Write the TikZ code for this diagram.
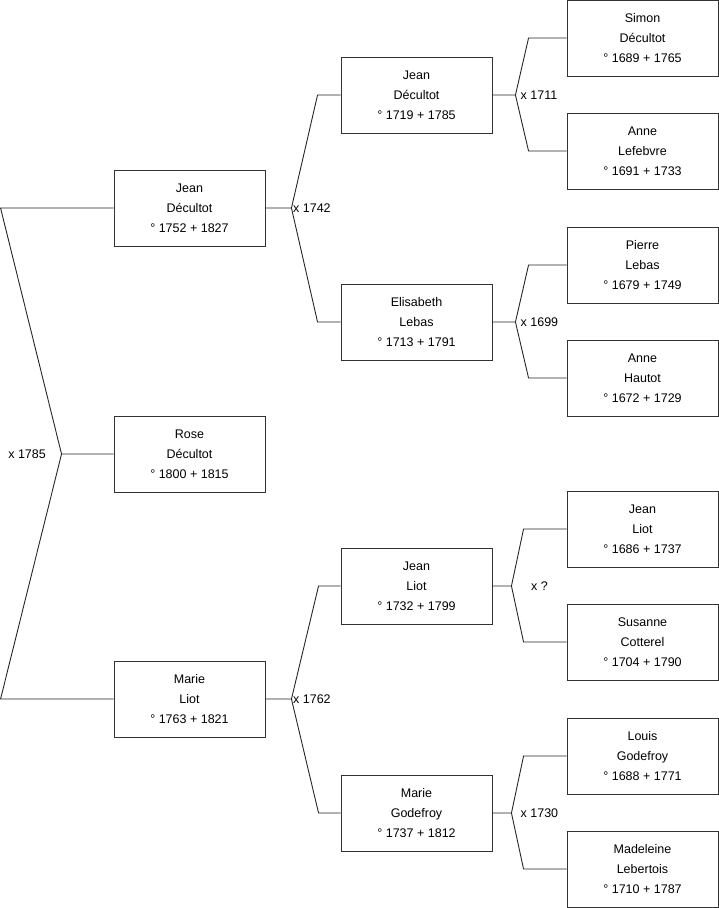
\documentclass[tikz,border=0pt]{standalone}
\usepackage{fontspec}
\setmainfont{Liberation Sans}
\usetikzlibrary{calc}

\begin{document}
\begin{tikzpicture}[x=1pt, y=-1pt,
        person/.style={rectangle, draw=black!80, line width=0.9pt,
                       minimum width=151pt, minimum height=76pt, inner sep=0pt,
                       align=center, font=\fontsize{12.5}{20}\selectfont},
        link/.style={draw=black!85, line width=0.9pt},
        wed/.style={font=\fontsize{12.5}{14}\selectfont, inner sep=1.5pt}
      ]
        \useasboundingbox (0,0) rectangle (719,908);
        \node[person] (jd1) at (189.5,208) {Jean\\Décultot\\° 1752 + 1827};
        \node[person] (rd)  at (189.5,454) {Rose\\Décultot\\° 1800 + 1815};
        \node[person] (ml1) at (189.5,699) {Marie\\Liot\\° 1763 + 1821};
        \node[person] (jd2) at (416.5,95)  {Jean\\Décultot\\° 1719 + 1785};
        \node[person] (el)  at (416.5,322) {Elisabeth\\Lebas\\° 1713 + 1791};
        \node[person] (jl2) at (416.5,586) {Jean\\Liot\\° 1732 + 1799};
        \node[person] (mg)  at (416.5,813) {Marie\\Godefroy\\° 1737 + 1812};
        \node[person] (sd)  at (642.5,38)  {Simon\\Décultot\\° 1689 + 1765};
        \node[person] (al)  at (642.5,151) {Anne\\Lefebvre\\° 1691 + 1733};
        \node[person] (pl)  at (642.5,265) {Pierre\\Lebas\\° 1679 + 1749};
        \node[person] (ah)  at (642.5,378) {Anne\\Hautot\\° 1672 + 1729};
        \node[person] (jl3) at (642.5,529) {Jean\\Liot\\° 1686 + 1737};
        \node[person] (sc)  at (642.5,642) {Susanne\\Cotterel\\° 1704 + 1790};
        \node[person] (lg)  at (642.5,756) {Louis\\Godefroy\\° 1688 + 1771};
        \node[person] (mb)  at (642.5,869) {Madeleine\\Lebertois\\° 1710 + 1787};

        \coordinate (m0) at ($(rd.west)-(52,0)$);
        \draw[link] (jd1.west) -- ++(-113,0) -- (m0) -- (rd.west);
        \draw[link] (m0) -- ($(ml1.west)-(113,0)$) -- (ml1.west);
        \node[wed, left=14pt] at (m0) {x 1785};

        \coordinate (m1) at ($(jd1.east)+(26,0)$);
        \draw[link] (jd1.east) -- (m1) -- ($(jd2.west)-(23,0)$) -- (jd2.west);
        \draw[link] (m1) -- ($(el.west)-(23,0)$) -- (el.west);
        \node[wed, right] at (m1) {x 1742};

        \coordinate (m2) at ($(ml1.east)+(26,0)$);
        \draw[link] (ml1.east) -- (m2) -- ($(jl2.west)-(22,0)$) -- (jl2.west);
        \draw[link] (m2) -- ($(mg.west)-(22,0)$) -- (mg.west);
        \node[wed, right] at (m2) {x 1762};

        \coordinate (m3) at ($(jd2.east)+(23,0)$);
        \draw[link] (jd2.east) -- (m3) -- ($(sd.west)-(38,0)$) -- (sd.west);
        \draw[link] (m3) -- ($(al.west)-(38,0)$) -- (al.west);
        \node[wed, right=3.5pt] at (m3) {x 1711};

        \coordinate (m4) at ($(el.east)+(23,0)$);
        \draw[link] (el.east) -- (m4) -- ($(pl.west)-(38,0)$) -- (pl.west);
        \draw[link] (m4) -- ($(ah.west)-(38,0)$) -- (ah.west);
        \node[wed, right=3.5pt] at (m4) {x 1699};

        \coordinate (m5) at ($(jl2.east)+(19,0)$);
        \draw[link] (jl2.east) -- (m5) -- ($(jl3.west)-(43,0)$) -- (jl3.west);
        \draw[link] (m5) -- ($(sc.west)-(43,0)$) -- (sc.west);
        \node[wed, right=18pt] at (m5) {x ?};

        \coordinate (m6) at ($(mg.east)+(19,0)$);
        \draw[link] (mg.east) -- (m6) -- ($(lg.west)-(43,0)$) -- (lg.west);
        \draw[link] (m6) -- ($(mb.west)-(43,0)$) -- (mb.west);
        \node[wed, right=7.5pt] at (m6) {x 1730};
      \end{tikzpicture}
\end{document}
